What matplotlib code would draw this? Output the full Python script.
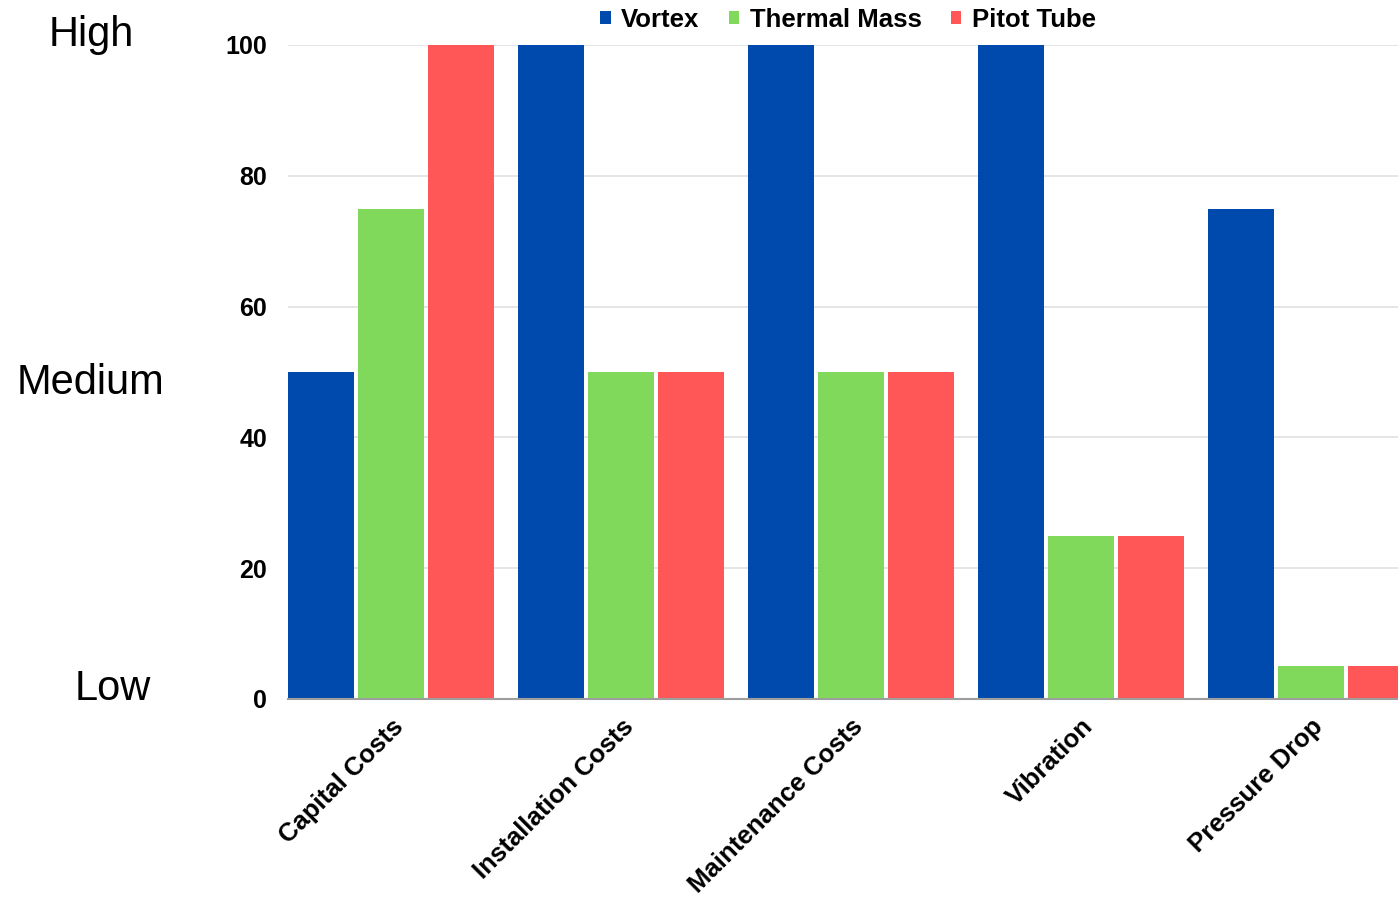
import numpy as np
import matplotlib.pyplot as plt

plt.rcParams['font.family'] = ['Liberation Sans', 'DejaVu Sans']

# data
categories = ['Capital Costs', 'Installation Costs', 'Maintenance Costs',
              'Vibration', 'Pressure Drop']
series_names = ['Vortex', 'Thermal Mass', 'Pitot Tube']
vortex = [50, 100, 100, 100, 75]
thermal_mass = [75, 50, 50, 25, 5]
pitot_tube = [100, 50, 50, 25, 5]
y_ticks = [0, 20, 40, 60, 80, 100]

colors = ['#004AAD', '#80D95B', '#FF5657']

fig = plt.figure(figsize=(13.98, 8.98), dpi=100)
W, H = 1398, 898
# axes runs past the right edge, like the original which is cut off
ax = fig.add_axes([288 / W, (H - 699) / H, 1150 / W, 654 / H])

x = np.arange(len(categories))
step = 70 / 230
width = 66 / 230
for i, (vals, name) in enumerate(zip([vortex, thermal_mass, pitot_tube], series_names)):
    ax.bar(x + (i - 1) * step, vals, width, color=colors[i], label=name, zorder=3)

ax.set_xlim(-0.448, 4.552)
ax.set_ylim(0, 100)
ax.set_yticks(y_ticks)
ax.set_yticklabels([str(v) for v in y_ticks], fontsize=18, fontweight='bold')
ax.tick_params(axis='y', length=0, pad=15)
ax.grid(axis='y', color='#E0E0E0', linewidth=1.2, zorder=0)
for s in ['top', 'right', 'left']:
    ax.spines[s].set_visible(False)
ax.spines['bottom'].set_color('#9E9E9E')
ax.spines['bottom'].set_linewidth(1.5)
ax.spines['bottom'].set_zorder(4)

ax.set_xticks(x)
ax.set_xticklabels(categories, rotation=45, ha='right', va='top',
                   rotation_mode='anchor', fontsize=18.5, fontweight='bold')
ax.tick_params(axis='x', length=0, pad=11)

# qualitative labels on the left
fig.text(91 / W, 1 - 35 / H, 'High', fontsize=30, ha='center', va='center')
fig.text(91 / W, 1 - 383 / H, 'Medium', fontsize=30, ha='center', va='center')
fig.text(113 / W, 1 - 689 / H, 'Low', fontsize=30, ha='center', va='center')

leg = fig.legend(loc='center', bbox_to_anchor=(848 / W, 1 - 20 / H), ncol=3,
                 frameon=False, handlelength=0.4, handleheight=0.4,
                 handletextpad=0.4, columnspacing=1.15,
                 prop={'size': 18.5, 'weight': 'bold'})

fig.savefig('out.png', dpi=100)
